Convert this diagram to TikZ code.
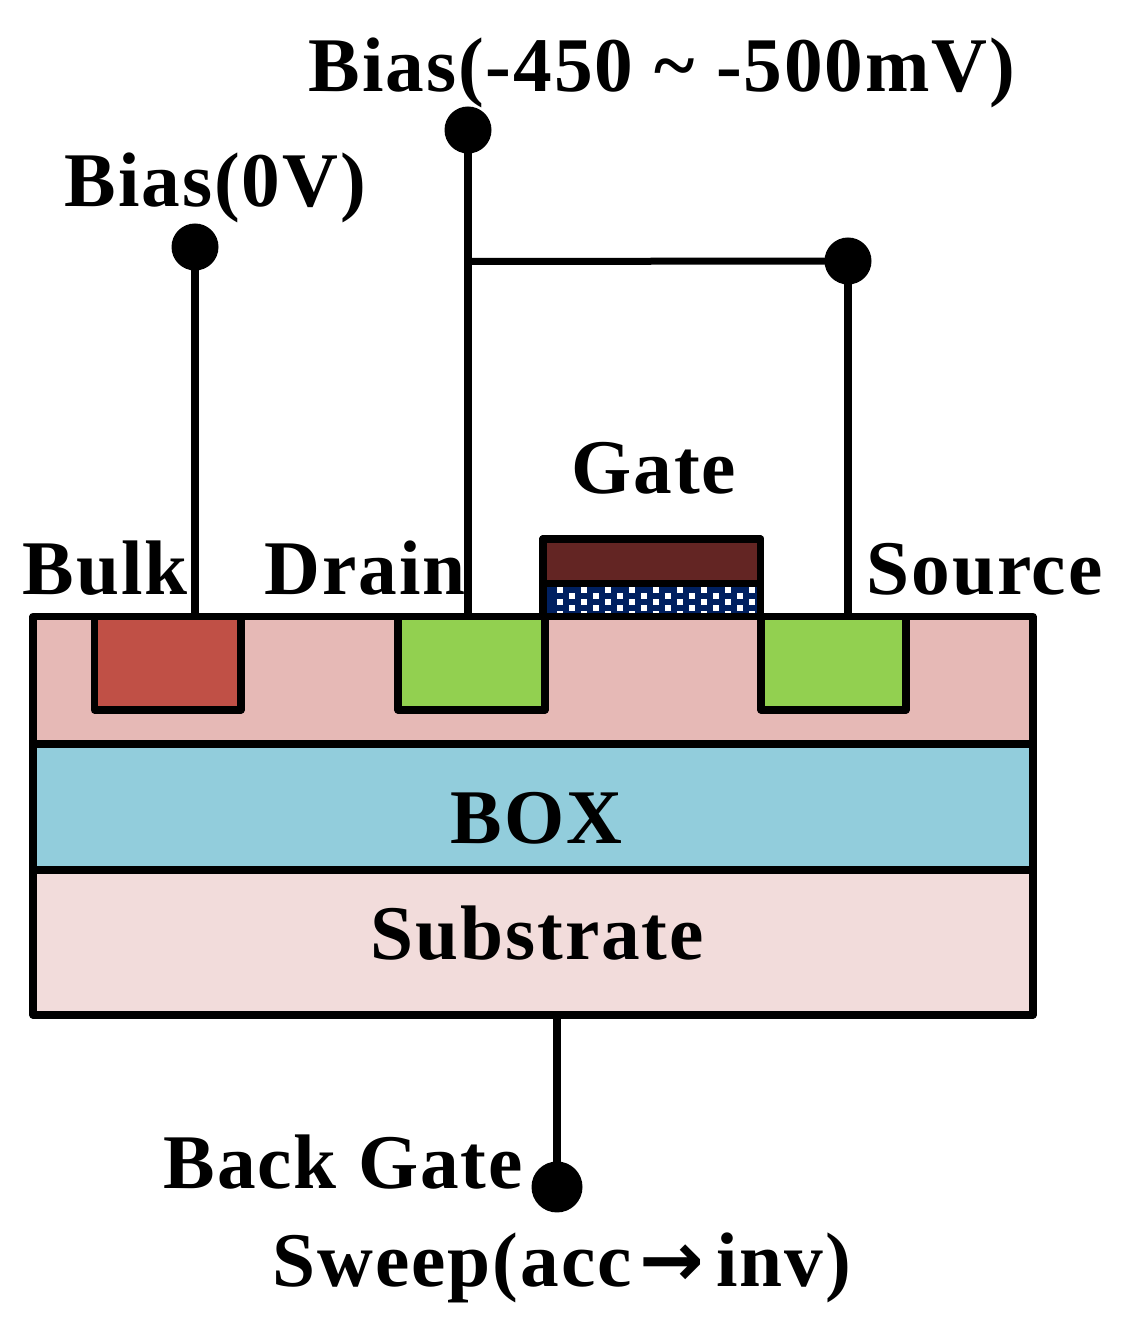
\documentclass[tikz,border=0pt]{standalone}
\usepackage{fontspec}
\setmainfont{Liberation Serif}
\newfontfamily\lblfont[LetterSpace=2.5]{Liberation Serif}
\newfontfamily\arrowfont{DejaVu Sans}
\usetikzlibrary{positioning}
\definecolor{bodypink}{RGB}{230,185,182}
\definecolor{boxblue}{RGB}{146,205,220}
\definecolor{subpink}{RGB}{242,220,219}
\definecolor{bulkred}{RGB}{192,80,70}
\definecolor{sdgreen}{RGB}{146,208,80}
\definecolor{gatebrown}{RGB}{99,37,35}
\definecolor{oxidenavy}{RGB}{0,32,96}
\tikzset{
  layer/.style={draw=black, line width=0.072cm, line join=round},
  wire/.style={black, line width=0.08cm},
  pad/.style={circle, fill=black, inner sep=0pt, outer sep=0pt, minimum size=0.47cm},
  lbl/.style={anchor=base west, inner sep=0pt, font=\fontsize{22}{26}\lblfont\bfseries},
}
\begin{document}
\begin{tikzpicture}
\useasboundingbox (0,0) rectangle (11.21,13.36);

% layers
\draw[layer, fill=bodypink] (0.33,7.195) rectangle (10.33,5.92);
\draw[layer, fill=boxblue] (0.33,5.92) rectangle (10.33,4.66);
\draw[layer, fill=subpink] (0.33,4.66) rectangle (10.33,3.21);

% contacts
\draw[layer, fill=bulkred] (0.945,7.195) rectangle (2.41,6.26);
\draw[layer, fill=sdgreen] (3.98,7.195) rectangle (5.45,6.26);
\draw[layer, fill=sdgreen] (7.61,7.195) rectangle (9.06,6.26);

% gate stack
\draw[layer, fill=gatebrown] (5.43,7.97) rectangle (7.605,7.525);
\fill[oxidenavy] (5.43,7.525) rectangle (7.605,7.195);
\begin{scope}
\clip (5.43,7.525) rectangle (7.605,7.195);
\foreach \row in {0,...,4} {
  \pgfmathsetmacro{\dotshift}{mod(\row,2)*0.12}
  \foreach \col in {0,...,9} {
    \fill[white] ({5.57+\dotshift+\col*0.24},{7.49-\row*0.059}) rectangle +(0.06,-0.06);
  }
}
\end{scope}
\draw[layer] (5.43,7.195) rectangle (7.605,7.97);
\draw[layer] (5.43,7.525) -- (7.605,7.525);

% terminals
\node[pad] (biasBulk) at (1.95,10.89) {};
\node[pad] (biasDrain) at (4.68,12.06) {};
\node[pad] (biasSource) at (8.48,10.75) {};
\node[pad, minimum size=0.51cm] (backGate) at (5.57,1.49) {};
\coordinate (bulkTop) at (1.95,7.195);
\coordinate (drainTop) at (4.68,7.195);
\coordinate (sourceTop) at (8.48,7.195);
\coordinate (subBottom) at (5.57,3.21);
\coordinate (drainTap) at (4.68,10.745);

\draw[wire] (biasBulk.center) -- (bulkTop);
\draw[wire] (biasDrain.center) -- (drainTop);
\draw[wire] (biasSource.center) -- (sourceTop);
\draw[wire, line width=0.07cm] (drainTap) -- (biasSource.center);
\draw[wire] (subBottom) -- (backGate.center);

% labels
\node[lbl] (biasHigh) at (3.08,12.44) {Bias(-450 \textasciitilde{} -500mV)};
\node[lbl] (biasZero) at (0.64,11.29) {Bias(0V)};
\node[lbl] (gateText) at (5.71,8.42) {Gate};
\node[lbl] (bulkText) at (0.22,7.41) {Bulk};
\node[lbl] (drainText) at (2.64,7.41) {Drain};
\node[lbl] (sourceText) at (8.66,7.41) {Source};
\node[lbl] (boxText) at (4.50,4.92) {BOX};
\node[lbl] (subText) at (3.70,3.76) {Substrate};
\node[lbl] (backText) at (1.63,1.47) {Back Gate};
\node[lbl] (sweepText) at (2.72,0.49) {Sweep(acc\kern0.08cm{\arrowfont\bfseries→}\kern0.12cm inv)};

\end{tikzpicture}
\end{document}
